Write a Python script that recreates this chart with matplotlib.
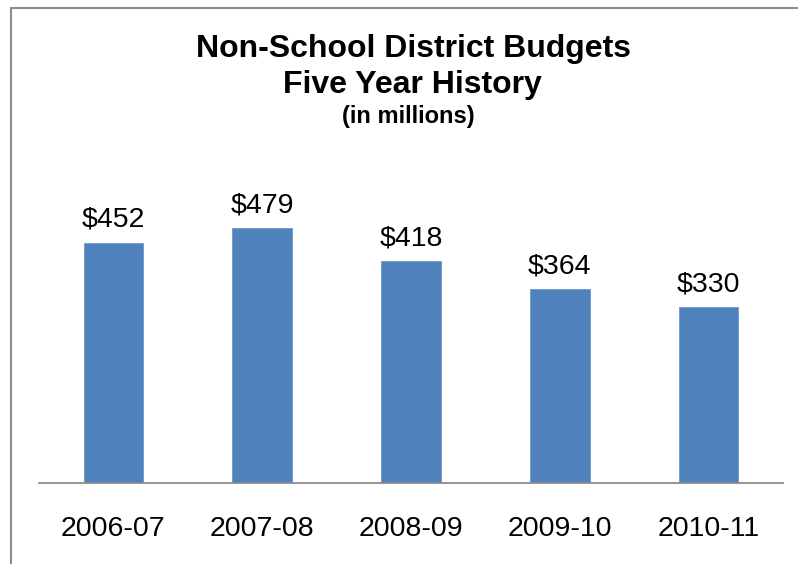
import numpy as np
import matplotlib.pyplot as plt
from matplotlib.patches import Rectangle

years = ['2006-07', '2007-08', '2008-09', '2009-10', '2010-11']
budgets = [452, 479, 418, 364, 330]

plt.rcParams['font.family'] = ['Liberation Sans', 'DejaVu Sans']

W, H = 798, 564
fig = plt.figure(figsize=(W / 100, H / 100), dpi=100)

# chart frame (right and bottom edges run off the canvas)
fig.patches.append(Rectangle((11 / W, -0.1), 1.2, 1 - 8 / H + 0.1,
                             transform=fig.transFigure, fill=False,
                             edgecolor='#8c8c8c', linewidth=1.5))

ax = fig.add_axes([39 / W, 81 / H, 744 / W, 319.2 / H])
ind = np.arange(len(years))
ax.bar(ind, budgets, 0.40, color='#4f81bd', edgecolor='#6f98c8', linewidth=0.6, zorder=2)
ax.set_xlim(-0.5, len(years) - 0.5)
ax.set_ylim(0, 600)

for x, v in zip(ind, budgets):
    ax.annotate('$%d' % v, (x, v), xytext=(0, 11.2), textcoords='offset points',
                ha='center', va='baseline', fontsize=20.5)

ax.set_xticks(ind)
ax.set_xticklabels(years, fontsize=20.5)
ax.tick_params(axis='x', length=0, pad=24)
ax.set_yticks([])
for s in ['top', 'right', 'left']:
    ax.spines[s].set_visible(False)
ax.spines['bottom'].set_color('#8c8c8c')
ax.spines['bottom'].set_linewidth(1.3)

# three-line title
fig.text(414 / W, 1 - 57 / H, 'Non-School District Budgets', ha='center', va='baseline',
         fontsize=23, fontweight='bold')
fig.text(412 / W, 1 - 93 / H, 'Five Year History', ha='center', va='baseline',
         fontsize=23, fontweight='bold')
fig.text(408 / W, 1 - 123 / H, '(in millions)', ha='center', va='baseline',
         fontsize=17, fontweight='bold')

fig.savefig('out.png', dpi=100, facecolor='white')
